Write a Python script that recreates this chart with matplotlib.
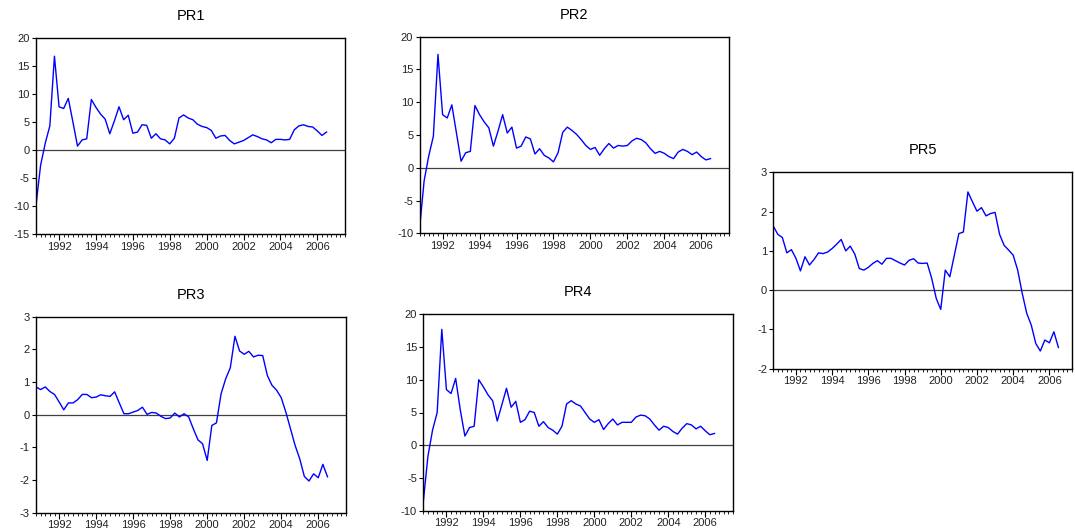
import numpy as np
import matplotlib
matplotlib.use("Agg")
import matplotlib.pyplot as plt
from matplotlib.ticker import FixedLocator, MultipleLocator

plt.rcParams['font.family'] = ['Liberation Sans', 'DejaVu Sans']
plt.rcParams['axes.unicode_minus'] = False

start_year = 1990.75  # first quarter of the sample
year_labels = [1992, 1994, 1996, 1998, 2000, 2002, 2004, 2006]

pr1 = [-9.8, -2.7, 1.2, 4.3, 16.7, 7.7, 7.4, 9.2, 5.0, 0.7, 1.8, 2.0, 9.0, 7.6, 6.4, 5.5,
       2.9, 5.2, 7.7, 5.4, 6.2, 3.0, 3.2, 4.5, 4.4, 2.1, 2.9, 2.0, 1.8, 1.1, 2.1, 5.7,
       6.25, 5.7, 5.4, 4.6, 4.2, 4.0, 3.5, 2.1, 2.5, 2.6, 1.7, 1.1, 1.4, 1.7, 2.2, 2.7,
       2.4, 2.0, 1.8, 1.3, 1.9, 1.9, 1.8, 1.9, 3.6, 4.3, 4.5, 4.2, 4.1, 3.4, 2.6, 3.2]

pr2 = [-9.4, -2.0, 1.8, 4.8, 17.3, 8.1, 7.6, 9.6, 5.3, 1.0, 2.3, 2.5, 9.5, 8.1, 7.0, 6.1,
       3.3, 5.6, 8.1, 5.3, 6.2, 3.0, 3.3, 4.7, 4.4, 2.1, 2.9, 1.9, 1.5, 0.9, 2.3, 5.4,
       6.2, 5.7, 5.1, 4.3, 3.4, 2.8, 3.1, 1.9, 2.9, 3.7, 3.0, 3.4, 3.3, 3.4, 4.1, 4.5,
       4.3, 3.8, 2.9, 2.2, 2.5, 2.2, 1.7, 1.4, 2.4, 2.8, 2.5, 2.0, 2.4, 1.7, 1.2, 1.4]

pr3 = [0.85, 0.77, 0.85, 0.71, 0.62, 0.39, 0.15, 0.36, 0.36, 0.46, 0.62, 0.62, 0.52, 0.54, 0.61, 0.58,
       0.56, 0.70, 0.36, 0.03, 0.03, 0.08, 0.13, 0.23, 0.01, 0.07, 0.05, -0.05, -0.12, -0.10, 0.05, -0.07,
       0.03, -0.07, -0.43, -0.77, -0.89, -1.40, -0.33, -0.25, 0.64, 1.10, 1.44, 2.40, 1.95, 1.85,
       1.94, 1.77, 1.82, 1.81, 1.20, 0.90, 0.75, 0.52, 0.08, -0.43, -0.94, -1.35, -1.89, -2.03,
       -1.81, -1.93, -1.52, -1.90]

pr4 = [-8.6, -1.7, 2.3, 5.0, 17.7, 8.5, 7.9, 10.2, 5.4, 1.4, 2.7, 2.9, 10.0, 8.9, 7.7, 6.8,
       3.7, 6.2, 8.7, 5.8, 6.7, 3.5, 3.9, 5.2, 5.0, 2.9, 3.6, 2.7, 2.3, 1.7, 2.9, 6.3,
       6.8, 6.3, 6.0, 5.0, 4.0, 3.5, 3.9, 2.4, 3.3, 4.0, 3.1, 3.5, 3.5, 3.5, 4.3, 4.6,
       4.5, 4.0, 3.1, 2.3, 2.9, 2.7, 2.1, 1.7, 2.6, 3.3, 3.1, 2.5, 2.9, 2.2, 1.6, 1.8]

pr5 = [1.63, 1.42, 1.34, 0.95, 1.03, 0.81, 0.49, 0.85, 0.64, 0.78, 0.95, 0.93, 0.97, 1.06, 1.17, 1.29,
       1.00, 1.12, 0.92, 0.55, 0.51, 0.58, 0.68, 0.75, 0.66, 0.81, 0.81, 0.75, 0.69, 0.64, 0.76, 0.80,
       0.69, 0.68, 0.69, 0.30, -0.21, -0.49, 0.51, 0.34, 0.89, 1.44, 1.48, 2.50, 2.25, 2.01,
       2.10, 1.89, 1.95, 1.98, 1.42, 1.14, 1.02, 0.89, 0.51, -0.08, -0.59, -0.89, -1.36, -1.55,
       -1.27, -1.34, -1.06, -1.46]

W, H = 1075, 532
fig = plt.figure(figsize=(W / 100, H / 100), dpi=100)


def make_axes(left, right, top, bottom):
    return fig.add_axes([left / W, 1 - bottom / H, (right - left) / W, (bottom - top) / H])


panels = [
    ("PR1", pr1, (36, 345, 37.7, 234.3), (-15, 20), 5, (1990.75, 2007.5)),
    ("PR2", pr2, (419.5, 729, 36.7, 233.3), (-10, 20), 5, (1990.75, 2007.5)),
    ("PR3", pr3, (36, 346, 316.7, 512.7), (-3, 3), 1, (1990.75, 2007.5)),
    ("PR4", pr4, (423.3, 733, 314.3, 510.7), (-10, 20), 5, (1990.75, 2007.5)),
    ("PR5", pr5, (773.3, 1072, 172.3, 368.7), (-2, 3), 1, (1990.75, 2007.25)),
]

for name, vals, box, ylim, ystep, xlim in panels:
    ax = make_axes(*box)
    x = start_year + np.arange(len(vals)) / 4.0
    ax.axhline(0, color='#404040', lw=0.9, zorder=1)
    ax.plot(x, vals, color='#0000ff', lw=1.0, zorder=2)
    ax.set_xlim(*xlim)
    ax.set_ylim(*ylim)
    ax.yaxis.set_major_locator(MultipleLocator(ystep))
    ax.xaxis.set_major_locator(FixedLocator(year_labels))
    ax.xaxis.set_minor_locator(MultipleLocator(0.25))
    ax.set_xticklabels([str(y) for y in year_labels])
    for s in ax.spines.values():
        s.set_linewidth(1.0)
        s.set_color('black')
    ax.tick_params(axis='y', direction='out', length=3, width=0.8, pad=1.5,
                   labelsize=8, labelcolor='#222222')
    ax.tick_params(axis='x', which='major', direction='out', length=4, width=0.8,
                   pad=1.5, labelsize=8, labelcolor='#222222')
    ax.tick_params(axis='x', which='minor', direction='out', length=2.5, width=0.6)
    ax.set_title(name, fontsize=10.5, pad=13)

fig.savefig("out.png", dpi=100)
